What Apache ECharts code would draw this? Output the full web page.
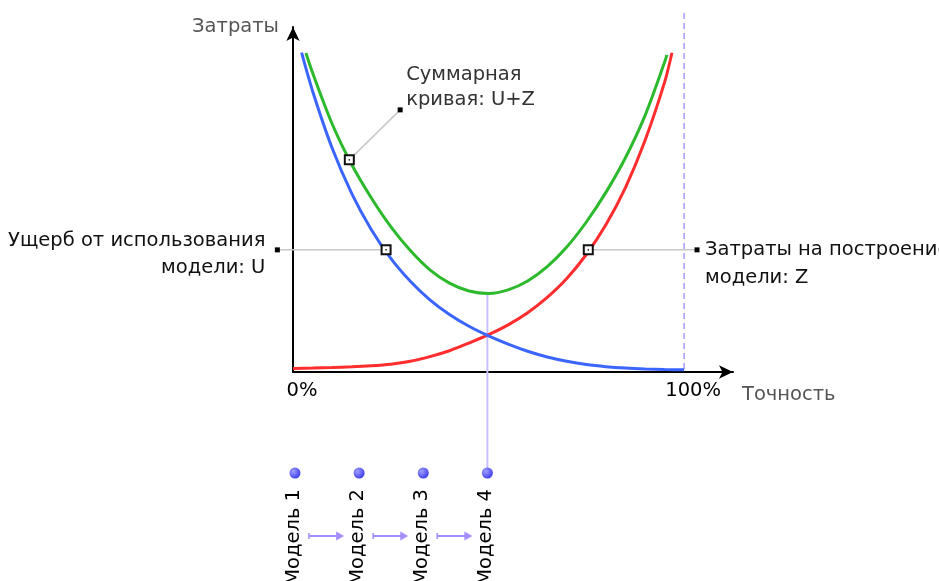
<!DOCTYPE html>
<html><head><meta charset="utf-8">
<script src="https://cdn.jsdelivr.net/npm/echarts@6/dist/echarts.min.js"></script>
<style>html,body{margin:0;padding:0;background:#fff}#c{width:939px;height:581px}</style>
</head><body><div id="c"></div>
<script>
// ---- data (x = accuracy %, y = cost, arbitrary units) ----
const uX = [2.2, 5, 10, 15, 20, 25, 30, 35, 40, 45, 50, 55, 60, 65, 70, 75, 80, 85, 90, 95, 100];
const uY = [89.4, 78.7, 62.7, 50.0, 39.9, 31.8, 25.4, 20.2, 16.1, 12.8, 10.1, 7.8, 5.8, 4.2, 3.0, 2.1, 1.5, 1.1, 0.85, 0.7, 0.6];
const zX = [0, 5, 10, 15, 20, 25, 30, 35, 40, 45, 50, 55, 60, 65, 70, 75, 80, 85, 90, 95, 96.9];
const zY = [1.0, 1.1, 1.25, 1.45, 1.75, 2.2, 3.0, 4.3, 5.95, 8.1, 10.45, 13.2, 16.6, 20.9, 26.2, 32.9, 41.2, 51.6, 64.8, 81.1, 89.4];
const sX = [3.3, 5, 10, 15, 20, 25, 30, 35, 40, 45, 50, 55, 60, 65, 70, 75, 80, 85, 90, 95, 95.6];
const sY = [89.3, 83.8, 69.5, 58.1, 48.8, 40.7, 34.0, 28.6, 24.9, 22.7, 22.0, 23.0, 25.5, 29.5, 35.0, 42.0, 50.3, 60.0, 71.8, 86.7, 88.8];

const xTicks = [0, 100];
const xTickLabels = ['0%', '100%'];
const xName = 'Точность';
const yName = 'Затраты';

const labelU = ['Ущерб от использования', 'модели: U'];
const pointU = [23.8, 34.2];
const anchorU = [-4.0, 34.2];
const labelZ = ['Затраты на построение', 'модели: Z'];
const pointZ = [75.5, 34.2];
const anchorZ = [103.3, 34.2];
const labelS = ['Суммарная', 'кривая: U+Z'];
const pointS = [14.4, 59.4];
const anchorS = [27.4, 73.4];

const modelNames = ['Модель 1', 'Модель 2', 'Модель 3', 'Модель 4'];
const modelX = [0.5, 16.9, 33.3, 49.7];
const chosenModel = 3;

// ---- chart ----
const FONT = '"DejaVu Sans", Verdana, sans-serif';
const FS = 19.5;
const chart = echarts.init(document.getElementById('c'));
const zip = (xs, ys) => xs.map((x, i) => [x, ys[i]]);
const curve = (xs, ys, color) => ({
  type: 'line', data: zip(xs, ys), smooth: 0.3, showSymbol: false,
  lineStyle: { color: color, width: 3 }
});

chart.setOption({
  animation: false,
  backgroundColor: '#fff',
  grid: { left: 293, right: 206, top: 27, bottom: 209 },
  xAxis: {
    type: 'value', min: 0, max: 112.5,
    axisLine: { show: true, lineStyle: { color: '#000', width: 2 }, symbol: ['none', 'arrow'], symbolSize: [10, 14] },
    axisTick: { show: false }, splitLine: { show: false },
    axisLabel: {
      customValues: xTicks,
      formatter: v => { const i = xTicks.indexOf(v); return i < 0 ? '' : xTickLabels[i]; },
      color: '#000', fontFamily: FONT, fontSize: FS, margin: 9, padding: [0, 0, 0, 18]
    },
    name: xName, nameLocation: 'end', nameGap: 9,
    nameTextStyle: { color: '#555', fontFamily: FONT, fontSize: FS, align: 'left', verticalAlign: 'top', padding: [13, 0, 0, 0] }
  },
  yAxis: {
    type: 'value', min: 0, max: 96.6,
    axisLine: { show: true, lineStyle: { color: '#000', width: 2 }, symbol: ['none', 'arrow'], symbolSize: [10, 14] },
    axisTick: { show: false }, splitLine: { show: false }, axisLabel: { show: false },
    name: yName, nameLocation: 'end', nameGap: 0,
    nameTextStyle: { color: '#555', fontFamily: FONT, fontSize: FS, align: 'right', verticalAlign: 'middle', padding: [0, 14, 0, 0] }
  },
  series: [
    curve(zX, zY, '#ff2d2d'),
    curve(uX, uY, '#3a66ff'),
    curve(sX, sY, '#2cba2c')
  ]
});

// ---- annotations placed through the chart's own scales ----
const P = p => chart.convertToPixel({ gridIndex: 0 }, p);
const g = [];
const origin = P([0, 0]);
const axisY = origin[1];

function line(x1, y1, x2, y2, stroke, w, z, dash) {
  g.push({ type: 'line', z: z, shape: { x1, y1, x2, y2 }, style: { stroke, lineWidth: w, lineDash: dash || null } });
}
function text(t, x, y, align, fill, extra) {
  g.push(Object.assign({ type: 'text', z: 20, x, y, style: { text: t, font: FS + 'px ' + FONT, fill, align, verticalAlign: 'middle' } }, extra || {}));
}
function marker(p) {
  g.push({ type: 'rect', z: 15, shape: { x: p[0] - 4.5, y: p[1] - 4.5, width: 9, height: 9 }, style: { fill: '#fff', stroke: '#111', lineWidth: 2 } });
  g.push({ type: 'rect', z: 16, shape: { x: p[0] - 0.75, y: p[1] - 0.75, width: 1.5, height: 1.5 }, style: { fill: '#222' } });
}
function anchor(p) {
  g.push({ type: 'rect', z: 15, shape: { x: p[0] - 2.5, y: p[1] - 2.5, width: 5, height: 5 }, style: { fill: '#000' } });
}

// dashed 100% line
const d100 = P([100, 0]);
line(d100[0], 13, d100[0], d100[1], '#a898ff', 1.5, 1, [6, 4]);

// annotations
const pu = P(pointU), au = P(anchorU);
line(au[0], au[1], pu[0], pu[1], '#c8c8c8', 1.5, 1);
marker(pu); anchor(au);
text(labelU[0], au[0] - 12, au[1] - 9, 'right', '#111');
text(labelU[1], au[0] - 12, au[1] + 18, 'right', '#111');

const pz = P(pointZ), az = P(anchorZ);
line(pz[0], pz[1], az[0], az[1], '#c8c8c8', 1.5, 1);
marker(pz); anchor(az);
text(labelZ[0], az[0] + 8, az[1], 'left', '#111');
text(labelZ[1], az[0] + 8, az[1] + 28, 'left', '#111');

const ps = P(pointS), as = P(anchorS);
line(ps[0], ps[1], as[0], as[1], '#c8c8c8', 1.5, 1);
marker(ps); anchor(as);
text(labelS[0], as[0] + 6, as[1] - 35, 'left', '#333');
text(labelS[1], as[0] + 6, as[1] - 10, 'left', '#333');

// models
const dotY = axisY + 101;
const dotXs = modelX.map(v => P([v, 0])[0]);
const chosen = P([modelX[chosenModel], Math.min(...sY)]);
line(chosen[0], chosen[1], chosen[0], dotY, '#cbbfff', 2, 1);

dotXs.forEach((x, i) => {
  g.push({ type: 'circle', z: 12, shape: { cx: x, cy: dotY, r: 5.5 },
    style: { fill: new echarts.graphic.RadialGradient(0.35, 0.35, 0.75, [{ offset: 0, color: '#a0a0ff' }, { offset: 1, color: '#3535ea' }]) } });
  text(modelNames[i], x - 1.5, axisY + 117, 'right', '#000', { rotation: Math.PI / 2 });
});
const arrowY = axisY + 164;
for (let i = 0; i < dotXs.length - 1; i++) {
  const x1 = dotXs[i] + 14, x2 = dotXs[i + 1] - 15;
  line(x1, arrowY, x2 - 6, arrowY, '#a58cff', 2, 5);
  line(x1, arrowY - 3, x1, arrowY + 3, '#a58cff', 1.5, 5);
  g.push({ type: 'polygon', z: 5, shape: { points: [[x2, arrowY], [x2 - 8, arrowY - 4.5], [x2 - 8, arrowY + 4.5]] }, style: { fill: '#a58cff' } });
}

chart.setOption({ graphic: g });
</script>
</body></html>
